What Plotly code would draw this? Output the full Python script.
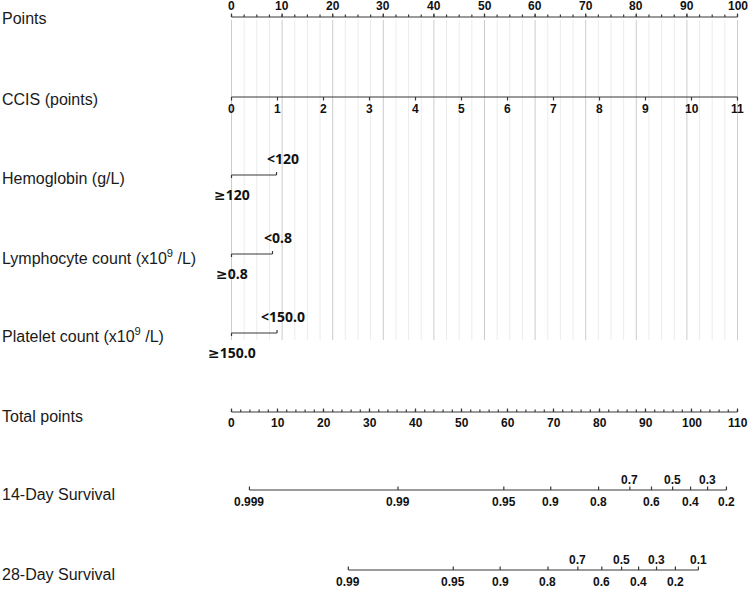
import plotly.graph_objects as go

# ---- values ----
points_major = list(range(0, 101, 10))
points_minor = [i * 2.5 for i in range(41)]

ccis_ticks = list(range(0, 12))
ccis_max = 11

hemo_levels = ["≥120", "<120"]
hemo_points = [0, 8.9]
lymph_levels = ["≥0.8", "<0.8"]
lymph_points = [0, 8.1]
plt_levels = ["≥150.0", "<150.0"]
plt_points = [0, 9.0]

total_major = list(range(0, 111, 10))
total_minor = list(range(0, 111, 2))
total_max = 110

surv14_labels = ["0.999", "0.99", "0.95", "0.9", "0.8", "0.7", "0.6", "0.5", "0.4", "0.3", "0.2"]
surv14_total = [3.9, 36.2, 59.2, 69.4, 79.8, 86.6, 91.3, 95.9, 99.8, 103.5, 107.6]
surv14_upper = ["0.7", "0.5", "0.3"]

surv28_labels = ["0.99", "0.95", "0.9", "0.8", "0.7", "0.6", "0.5", "0.4", "0.3", "0.2", "0.1"]
surv28_total = [25.4, 48.2, 58.4, 68.8, 75.3, 80.5, 84.8, 88.5, 92.4, 96.5, 101.5]
surv28_upper = ["0.7", "0.5", "0.3", "0.1"]

row_names = ["Points", "CCIS (points)", "Hemoglobin (g/L)",
             "Lymphocyte count (x10<sup>9</sup> /L)", "Platelet count (x10<sup>9</sup> /L)",
             "Total points", "14-Day Survival", "28-Day Survival"]
row_label_y = [18, 99, 178, 257, 335, 416, 494, 574]

# row geometry (y in pixels from top)
Y_PTS, Y_CCIS, Y_HEMO, Y_LYM, Y_PLT, Y_TOT, Y_S14, Y_S28 = 17, 97, 175, 254, 333, 412, 490, 570

AX = "#383838"
TICKFONT = dict(family="Liberation Sans, Arial", size=12, color="#111", weight="bold")
CATFONT = dict(family="Noto Sans, DejaVu Sans", size=14, color="#111", weight="bold")


def ccis_to_pts(v):
    return v * 100 / ccis_max


def tot_to_pts(v):
    return v * 100 / total_max


def segs(xs, y0, y1):
    X, Y = [], []
    for x in xs:
        X += [x, x, None]
        Y += [y0, y1, None]
    return X, Y


fig = go.Figure()


def add_lines(X, Y, color=AX, width=1.2):
    fig.add_trace(go.Scatter(x=X, y=Y, mode="lines", line=dict(color=color, width=width),
                             hoverinfo="skip", showlegend=False))


def add_text(xs, ys, texts, font, shift=0):
    for x, y, t in zip(xs, ys, texts):
        fig.add_annotation(x=x, y=y, text=t, showarrow=False, font=font,
                           xanchor="center", yanchor="middle", xshift=shift)


# gridlines
minor_only = [v for v in points_minor if v % 10 != 0]
add_lines(*segs(minor_only, 20, 340), color="#ececec", width=1)
add_lines(*segs(points_major, 20, 340), color="#cccccc", width=1)

# Points axis
add_lines([0, 100], [Y_PTS, Y_PTS])
add_lines(*segs(points_minor, Y_PTS, Y_PTS - 2.5))
add_lines(*segs(points_major, Y_PTS, Y_PTS - 3.5))
add_text(points_major, [Y_PTS - 11] * len(points_major), [str(v) for v in points_major], TICKFONT)

# CCIS axis
cx = [ccis_to_pts(v) for v in ccis_ticks]
add_lines([cx[0], cx[-1]], [Y_CCIS, Y_CCIS])
add_lines(*segs(cx, Y_CCIS, Y_CCIS + 3.5))
add_text(cx, [Y_CCIS + 12] * len(cx), [str(v) for v in ccis_ticks], TICKFONT)

# categorical rows
for y, lv, pts in [(Y_HEMO, hemo_levels, hemo_points),
                   (Y_LYM, lymph_levels, lymph_points),
                   (Y_PLT, plt_levels, plt_points)]:
    add_lines([pts[0], pts[1]], [y, y])
    add_lines([pts[0], pts[0], None, pts[1], pts[1]], [y, y + 3, None, y, y - 3])
    add_text([pts[0]], [y + 19], [lv[0]], CATFONT)
    add_text([pts[1]], [y - 17], [lv[1]], CATFONT, shift=6)

# Total points axis
tx = [tot_to_pts(v) for v in total_major]
add_lines([0, tot_to_pts(total_max)], [Y_TOT, Y_TOT])
add_lines(*segs([tot_to_pts(v) for v in total_minor], Y_TOT, Y_TOT - 2.5))
add_lines(*segs(tx, Y_TOT, Y_TOT - 3.5))
add_text(tx, [Y_TOT + 11] * len(tx), [str(v) for v in total_major], TICKFONT)

# survival axes
for y, labels, tots, upper in [(Y_S14, surv14_labels, surv14_total, surv14_upper),
                               (Y_S28, surv28_labels, surv28_total, surv28_upper)]:
    sx = [tot_to_pts(v) for v in tots]
    add_lines([sx[0], sx[-1]], [y, y])
    add_lines(*segs(sx, y, y - 3.5))
    for x, lab in zip(sx, labels):
        if lab in upper:
            add_text([x], [y - 10], [lab], TICKFONT)
        else:
            add_text([x], [y + 12], [lab], TICKFONT)

# row labels
for name, y in zip(row_names, row_label_y):
    fig.add_annotation(x=0.0, xref="paper", y=y, text=name, showarrow=False,
                       xanchor="left", yanchor="middle",
                       font=dict(family="Liberation Sans, Arial", size=16, color="#1a1a1a"))

# x axis in "points" units: 0 -> 231.5 px, 100 -> 737.5 px
px_per_pt = 506 / 100
x0 = -231.5 / px_per_pt
x1 = x0 + 750 / px_per_pt

fig.update_layout(
    width=750, height=589,
    margin=dict(l=0, r=0, t=0, b=0),
    paper_bgcolor="white", plot_bgcolor="white",
    xaxis=dict(range=[x0, x1], visible=False, fixedrange=True),
    yaxis=dict(range=[589, 0], visible=False, fixedrange=True),
    showlegend=False,
)

fig.write_html("out.html", config={"displayModeBar": False},
               post_script="document.body.style.margin='0';")
